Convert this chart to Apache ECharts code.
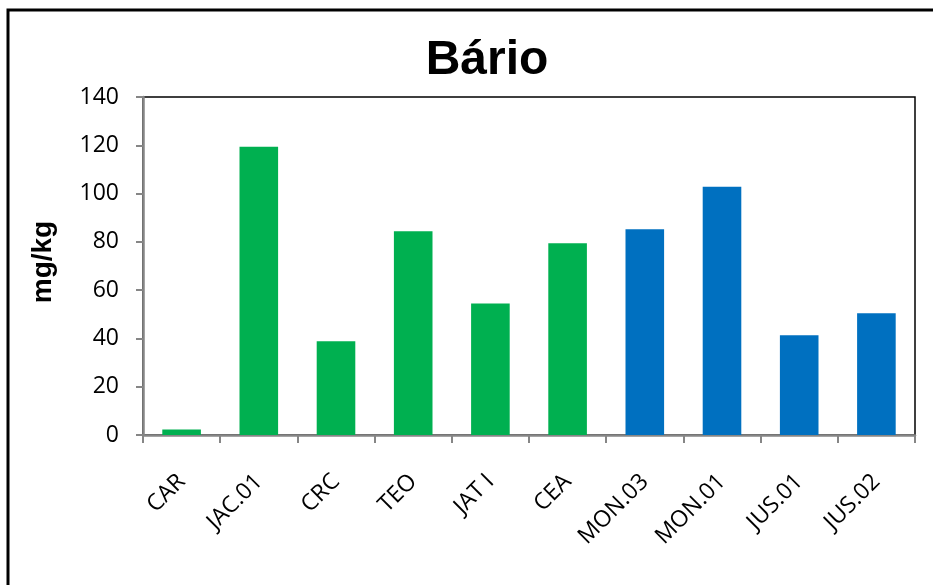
<!DOCTYPE html>
<html>
<head>
<meta charset="utf-8">
<script src="https://cdn.jsdelivr.net/npm/echarts@6/dist/echarts.min.js"></script>
<style>
  html, body { margin: 0; padding: 0; background: #fff; }
  #chart { width: 933px; height: 585px; }
</style>
</head>
<body>
<div id="chart"></div>
<script>
// Barium concentration per sampling site (mg/kg)
const categories = ['CAR', 'JAC.01', 'CRC', 'TEO', 'JAT I', 'CEA', 'MON.03', 'MON.01', 'JUS.01', 'JUS.02'];
const values = [2.3, 119.4, 38.8, 84.4, 54.5, 79.4, 85.2, 102.8, 41.3, 50.4];
const groups = ['g', 'g', 'g', 'g', 'g', 'g', 'b', 'b', 'b', 'b'];
const yTicks = [0, 20, 40, 60, 80, 100, 120, 140];

const groupColors = { g: '#00B050', b: '#0070C0' };
const axisGray = '#868686';

const chart = echarts.init(document.getElementById('chart'), null, { renderer: 'canvas' });

chart.setOption({
  backgroundColor: '#ffffff',
  animation: false,
  title: {
    text: 'Bário',
    left: 482,
    top: 32,
    textAlign: 'center',
    textStyle: {
      fontFamily: 'Liberation Sans, Arial, sans-serif',
      fontWeight: 'bold',
      fontSize: 48,
      color: '#000'
    }
  },
  graphic: [
    {
      type: 'rect',
      shape: { x: 8, y: 10, width: 1200, height: 1000 },
      style: { fill: 'none', stroke: '#000', lineWidth: 3 },
      silent: true
    }
  ],
  grid: {
    left: 143,
    right: 18,
    top: 97,
    bottom: 150,
    show: true,
    borderColor: '#000',
    borderWidth: 1.5,
    containLabel: false
  },
  xAxis: {
    type: 'category',
    data: categories,
    boundaryGap: true,
    axisLine: { show: true, lineStyle: { color: axisGray, width: 2.5 } },
    axisTick: { show: true, alignWithLabel: false, length: 8, lineStyle: { color: axisGray, width: 2 } },
    axisLabel: {
      interval: 0,
      rotate: 45,
      margin: 43,
      fontFamily: 'Open Sans, sans-serif',
      fontSize: 23,
      color: '#000'
    }
  },
  yAxis: {
    type: 'value',
    min: yTicks[0],
    max: yTicks[yTicks.length - 1],
    interval: yTicks[1] - yTicks[0],
    name: 'mg/kg',
    nameLocation: 'middle',
    nameRotate: 90,
    nameGap: 86,
    nameTextStyle: {
      fontFamily: 'Liberation Sans, Arial, sans-serif',
      fontWeight: 'bold',
      fontSize: 28,
      color: '#000',
      padding: [0, 0, 0, 8]
    },
    splitLine: { show: false },
    axisLine: { show: true, lineStyle: { color: axisGray, width: 2.5 } },
    axisTick: { show: true, length: 7, lineStyle: { color: axisGray, width: 2 } },
    axisLabel: {
      margin: 24,
      fontFamily: 'Open Sans, sans-serif',
      fontSize: 23,
      color: '#000'
    }
  },
  series: [
    {
      type: 'bar',
      data: values.map((v, i) => ({ value: v, itemStyle: { color: groupColors[groups[i]] } })),
      barWidth: '50%'
    }
  ]
});
</script>
</body>
</html>
